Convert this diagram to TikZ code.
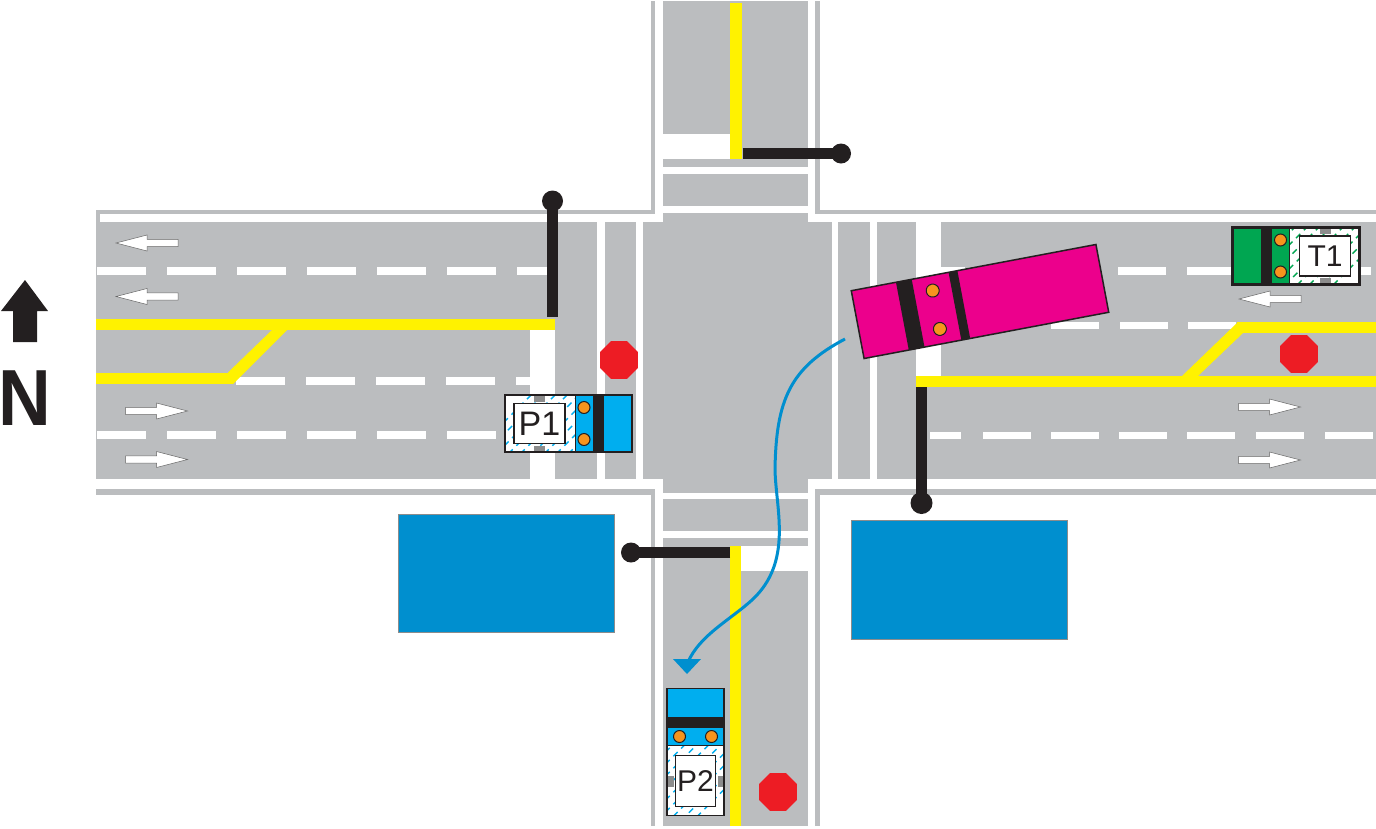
\documentclass[tikz,border=0pt]{standalone}
\usepackage{fontspec}
\setmainfont{Liberation Sans}
\usetikzlibrary{shapes.geometric}
\definecolor{roadgrey}{HTML}{BBBDBF}
\definecolor{lineyellow}{HTML}{FFF200}
\definecolor{stopred}{HTML}{ED1C24}
\definecolor{ink}{HTML}{231F20}
\definecolor{truckblue}{HTML}{00AEEF}
\definecolor{truckgreen}{HTML}{00A651}
\definecolor{truckpink}{HTML}{EC008C}
\definecolor{wheelorange}{HTML}{F7941D}
\definecolor{blockblue}{HTML}{008FCF}
\tikzset{
 roadmark/.style={fill=white},
 yellowline/.style={fill=lineyellow},
 lanedash/.style={white,line width=7.5},
 lanemark/.style={fill=white,draw=black!60,line width=.5},
 pole/.style={ink,line width=11},
 stopsign/.style={shape=regular polygon,regular polygon sides=8,
  fill=stopred,inner sep=0,minimum size=41},
 block/.style={fill=blockblue,draw=black!45,line width=.5},
 wheel/.style={fill=wheelorange,draw=ink,line width=1},
 trucklabel/.style={font=\fontsize{#1}{#1}\selectfont,text=ink,inner sep=0}
}
% #1 centre, #2 turn, #3 body colour, #4 name, #5 edge width, #6 font size
\newcommand{\truckdraw}[6]{
\begin{scope}[shift={(#1)},#2]
\fill[white] (-63.5,-28.5) rectangle (6.5,28.5);
\begin{scope}
\clip (-63.5,-28.5) rectangle (6.5,28.5);
\foreach \d in {-66,-54,...,100}
 \draw[#3,line width=1.4,dash pattern=on 6 off 5] (\d-30,30) -- (\d+30,-30);
\end{scope}
\fill[#3] (6.5,-28.5) rectangle (63.5,28.5);
\fill[ink] (24.5,-28.5) rectangle (35.5,28.5);
\fill[black!45] (-34.5,-28) rectangle (-23.5,-22);
\fill[black!45] (-34.5,22) rectangle (-23.5,28);
\draw[fill=white,draw=ink,line width=1.2] (-54.5,-20) rectangle (-3.5,20);
\draw[wheel] (15.5,-16) circle (6);
\draw[wheel] (15.5,16) circle (6);
\draw[ink,line width=#5] (-63.5,-28.5) rectangle (63.5,28.5);
\draw[ink,line width=1] (6.5,-28.5) -- (6.5,28.5);
\node[trucklabel=#6] (#4) at (-29,0) {#4};
\end{scope}}
\newcommand{\lanearrow}[2]{
\draw[lanemark,shift={(#1)},xscale=#2] (0,0) -- (31,-8) -- (31,-3.7) -- (62,-3.7) -- (62,3.7) -- (31,3.7) -- (31,8) -- cycle;}
\begin{document}
\begin{tikzpicture}[x=1pt,y=-1pt]
\useasboundingbox (0,0) rectangle (1376,828);
%road edges
\fill[roadgrey] (96,209.5) rectangle (1376,495);
\fill[roadgrey] (651,1) rectangle (820,826);
\fill[white] (100,214) rectangle (1376,222);
\fill[white] (96,479) rectangle (1376,489);
\fill[white] (655,1) rectangle (815,826);
\fill[roadgrey] (96,222) rectangle (1376,479);
\fill[roadgrey] (663,1) rectangle (808,826);
%crossings
\fill[roadmark] (597,222) rectangle (605,479);
\fill[roadmark] (636,214) rectangle (643,479);
\fill[roadmark] (832,214) rectangle (838,479);
\fill[roadmark] (870,222) rectangle (877,479);
\fill[roadmark] (663,167) rectangle (808,174);
\fill[roadmark] (663,206) rectangle (808,213);
\fill[roadmark] (663,492.5) rectangle (808,499);
\fill[roadmark] (663,531) rectangle (808,538);
\fill[roadgrey] (663,213) rectangle (808,222);
%stop bars
\fill[roadmark] (530,330) rectangle (555,479);
\fill[roadmark] (916,222) rectangle (940.5,376);
\fill[roadmark] (663,134) rectangle (730,159);
\fill[roadmark] (741,546) rectangle (808,571);
%lane dashes
\foreach \x in {97,167,...,447} \draw[lanedash] (\x,271) -- ++(49,0);
\draw[lanedash] (517,271) -- (548,271);
\foreach \x in {236,306,376,446} \draw[lanedash] (\x,381) -- ++(49,0);
\draw[lanedash] (516,381) -- (530,381);
\foreach \x in {97,167,...,447} \draw[lanedash] (\x,435) -- ++(49,0);
\foreach \x in {1118,1187} \draw[lanedash] (\x,271) -- ++(48,0);
\draw[lanedash] (940,271) -- (965,271);
\draw[lanedash] (1355,271) -- (1371,271);
\foreach \x in {1051,1120,1188} \draw[lanedash] (\x,325.5) -- ++(48,0);
\draw[lanedash] (930,435.5) -- (961,435.5);
\foreach \x in {983,1051,1119,1187,1256,1325} \draw[lanedash] (\x,435.5) -- ++(48,0);
%yellow lines
\fill[yellowline] (96,319) rectangle (555,330);
\fill[yellowline] (96,372.5) rectangle (233,384);
\fill[yellowline] (228,372.5) -- (272,330) -- (287,330) -- (233,384) -- cycle;
\fill[yellowline] (1237,322) rectangle (1376,333);
\fill[yellowline] (916,376) rectangle (1376,387);
\fill[yellowline] (1182,376) -- (1237,323) -- (1243,333) -- (1198,376) -- cycle;
\fill[yellowline] (730,2.5) rectangle (742,159);
\fill[yellowline] (730,546) rectangle (741,826);
%signal poles
\draw[pole] (552.5,317) -- (552.5,201);
\fill[ink] (552.5,201) circle (10.5);
\draw[pole] (921.5,387) -- (921.5,503);
\fill[ink] (921.5,503) circle (11);
\draw[pole] (742.5,153.5) -- (841,153.5);
\fill[ink] (841,153.5) circle (10);
\draw[pole] (730,552.5) -- (631,552.5);
\fill[ink] (631,552.5) circle (10);
%lane arrows
\lanearrow{116,243}{1}
\lanearrow{116,296.5}{1}
\lanearrow{187.5,411}{-1}
\lanearrow{187.5,459.5}{-1}
\lanearrow{1239,299}{1}
\lanearrow{1300.5,407}{-1}
\lanearrow{1300.5,460}{-1}
%stop signs
\node[stopsign] (stopP1) at (619,360) {};
\node[stopsign] (stopT1) at (1299,354) {};
\node[stopsign] (stopP2) at (778,792) {};
%buildings
\draw[block] (398,514) rectangle (614,632);
\draw[block] (851,520) rectangle (1067,639);
%path of the pink truck
\draw[blockblue,line width=3] (845,339) .. controls (790,368) and (776,400) .. (775,470)
 .. controls (776,510) and (793,562) .. (752,600) .. controls (730,620) and (700,635) .. (688,662);
\fill[blockblue] (673,659) -- (701,659) -- (687,674) -- cycle;
%trucks
\truckdraw{568.5,423.5}{}{truckblue}{P1}{1.5}{34}
\truckdraw{1296,256}{rotate=180}{truckgreen}{T1}{3}{30}
\truckdraw{695.5,752}{rotate=90,yscale=-1}{truckblue}{P2}{1.5}{30}
%pink truck
\begin{scope}[shift={(980,301.5)},rotate=10.7]
\fill[truckpink] (-124.5,-34.5) rectangle (124.5,34.5);
\fill[ink] (-79,-34.5) rectangle (-63,34.5);
\fill[ink] (-25.5,-34.5) rectangle (-16.5,34.5);
\draw[wheel] (-44.5,-19.5) circle (6.5);
\draw[wheel] (-44.5,19.5) circle (6.5);
\draw[ink,line width=1.5] (-124.5,-34.5) rectangle (124.5,34.5);
\end{scope}
%north sign
\fill[ink] (25,280) -- (48,311) -- (37,311) -- (37,342) -- (13,342) -- (13,311) -- (1,311) -- cycle;
\node[font=\fontsize{73}{73}\selectfont\bfseries,text=ink,inner sep=0,yscale=1.09,transform shape] (north) at (25,398.5) {N};
\end{tikzpicture}
\end{document}
